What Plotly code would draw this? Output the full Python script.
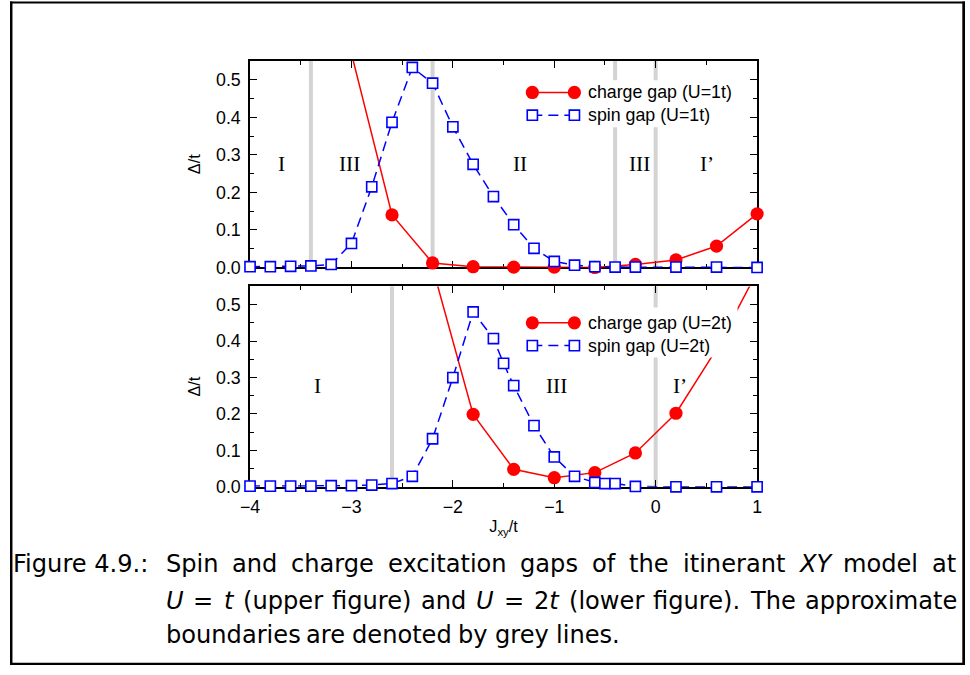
import glob
import os
import struct

import plotly.graph_objects as go

# ---------------- data ----------------
# upper panel, U = t
jxy_spin_u1 = [-4.0, -3.8, -3.6, -3.4, -3.2, -3.0, -2.8, -2.6, -2.4, -2.2, -2.0, -1.8,
               -1.6, -1.4, -1.2, -1.0, -0.8, -0.6, -0.4, -0.2, 0.2, 0.6, 1.0]
spin_u1 = [0.002, 0.002, 0.003, 0.004, 0.008, 0.064, 0.215, 0.387, 0.533, 0.491, 0.375, 0.275,
           0.189, 0.114, 0.051, 0.016, 0.006, 0.002, 0.001, 0.001, 0.001, 0.001, 0.0]
jxy_charge_u1 = [-3.0, -2.6, -2.2, -1.8, -1.4, -1.0, -0.6, -0.2, 0.2, 0.6, 1.0]
charge_u1 = [0.57, 0.140, 0.012, 0.002, 0.001, 0.001, 0.0, 0.008, 0.020, 0.057, 0.143]
bounds_u1 = [-3.4, -2.2, -0.4, 0.0]
labels_u1 = ["I", "III", "II", "III", "I\u2019"]
label_x_u1 = [-3.687, -3.02, -1.34, -0.163, 0.51]

# lower panel, U = 2t
jxy_spin_u2 = [-4.0, -3.8, -3.6, -3.4, -3.2, -3.0, -2.8, -2.6, -2.4, -2.2, -2.0, -1.8,
               -1.6, -1.5, -1.4, -1.2, -1.0, -0.8, -0.6, -0.5, -0.4, -0.2, 0.2, 0.6, 1.0]
spin_u2 = [0.002, 0.002, 0.002, 0.002, 0.003, 0.003, 0.005, 0.009, 0.029, 0.132, 0.300, 0.480,
           0.407, 0.339, 0.278, 0.168, 0.082, 0.029, 0.012, 0.009, 0.009, 0.001, 0.0, 0.0, 0.0]
jxy_charge_u2 = [-2.2, -1.8, -1.4, -1.0, -0.6, -0.2, 0.2, 0.6, 1.0]
charge_u2 = [0.602, 0.199, 0.048, 0.025, 0.039, 0.093, 0.202, 0.378, 0.59]
bounds_u2 = [-2.6, 0.0]
labels_u2 = ["I", "III", "I\u2019"]
label_x_u2 = [-3.335, -0.98, 0.239]

label_y = 0.276
x_range = [-4, 1]
y_range = [0, 0.55]
legend_u1 = ["charge gap (U=1t)", "spin gap (U=1t)"]
legend_u2 = ["charge gap (U=2t)", "spin gap (U=2t)"]
y_title = "\u0394/t"
x_title = "J<sub>xy</sub>/t"

caption_label = "Figure 4.9.:"
caption_lines = [
    ["Spin", "and", "charge", "excitation", "gaps", "of", "the", "itinerant", "<i>XY</i>",
     "model", "at"],
    ["<i>U</i>", "=", "<i>t</i>", "(upper", "figure)", "and", "<i>U</i>", "=", "2<i>t</i>",
     "(lower", "figure).", "The", "approximate"],
    ["boundaries", "are", "denoted", "by", "grey", "lines."],
]
caption_justified = [True, True, False]

# ---------------- styling / geometry ----------------
W, H = 970, 675
# the photographed page shows the figure slightly scaled and shifted;
# all positions below are given in picture pixels and mapped back onto the paper
S, OX, OY = 0.9835, 11.2, 1.0
K = 1 / S
RED = "#ff0000"
BLUE = "#0000ff"
GREY = "#d3d3d3"
SANS = "Liberation Sans, Arial, sans-serif"
SERIF = "Liberation Serif, Times New Roman, serif"
CAPFONT = "DejaVu Sans, sans-serif"
CAP_LEFT, CAP_INDENT, CAP_RIGHT = 13.3, 165.7, 955.0
CAP_BASELINES = [571.7, 609.0, 643.3]
CAP_LINE3_WIDTH = 452.6


def px(X):
    return min(1.0, max(0.0, (X - OX) / S / W))


def py(Y):
    return min(1.0, max(0.0, 1 - (Y - OY) / S / H))


# ---- text metrics from the installed caption font (for justified caption) ----
def load_widths(name):
    paths = []
    for root in ("/usr/share/fonts", "/usr/local/share/fonts", os.path.expanduser("~/.fonts")):
        paths += glob.glob(os.path.join(root, "**", name), recursive=True)
    if not paths:
        return None
    try:
        data = open(paths[0], "rb").read()
        ntab = struct.unpack(">H", data[4:6])[0]
        tabs = {}
        for i in range(ntab):
            tag, _, off, ln = struct.unpack(">4sIII", data[12 + 16 * i:28 + 16 * i])
            tabs[tag.decode("latin1")] = off
        upem = struct.unpack(">H", data[tabs["head"] + 18:tabs["head"] + 20])[0]
        nh = struct.unpack(">H", data[tabs["hhea"] + 34:tabs["hhea"] + 36])[0]
        hm = tabs["hmtx"]
        adv = [struct.unpack(">H", data[hm + 4 * i:hm + 4 * i + 2])[0] for i in range(nh)]
        cm = tabs["cmap"]
        nsub = struct.unpack(">H", data[cm + 2:cm + 4])[0]
        sub = None
        for i in range(nsub):
            pid, eid, off = struct.unpack(">HHI", data[cm + 4 + 8 * i:cm + 12 + 8 * i])
            if struct.unpack(">H", data[cm + off:cm + off + 2])[0] == 4:
                sub = cm + off
                break
        if sub is None:
            return None
        s2 = struct.unpack(">H", data[sub + 6:sub + 8])[0]
        n = s2 // 2
        ends = struct.unpack(">%dH" % n, data[sub + 14:sub + 14 + s2])
        starts = struct.unpack(">%dH" % n, data[sub + 16 + s2:sub + 16 + 2 * s2])
        deltas = struct.unpack(">%dh" % n, data[sub + 16 + 2 * s2:sub + 16 + 3 * s2])
        ro = sub + 16 + 3 * s2
        roffs = struct.unpack(">%dH" % n, data[ro:ro + s2])

        def width(ch):
            c = ord(ch)
            g = 0
            for i in range(n):
                if c <= ends[i]:
                    if c >= starts[i]:
                        if roffs[i] == 0:
                            g = (c + deltas[i]) & 0xFFFF
                        else:
                            a = ro + 2 * i + roffs[i] + 2 * (c - starts[i])
                            g = struct.unpack(">H", data[a:a + 2])[0]
                            if g:
                                g = (g + deltas[i]) & 0xFFFF
                    break
            return adv[min(g, nh - 1)] / upem
        return width
    except Exception:
        return None


_w = load_widths("DejaVuSans.ttf") or (lambda ch: 0.318 if ch == " " else 0.58)


def text_em(s):
    s = s.replace("<i>", "").replace("</i>", "")
    return sum(_w(ch) for ch in s)


cap_size = CAP_LINE3_WIDTH / text_em(" ".join(caption_lines[2]))
cap_size = max(21.0, min(24.0, cap_size))      # size in picture pixels
space = _w(" ") * cap_size

fig = go.Figure()


def add_panel(xa, ya, jc, c, js, s):
    cm = [v if v <= y_range[1] else None for v in c]
    sm = [v if v <= y_range[1] else None for v in s]
    fig.add_trace(go.Scatter(x=jc, y=c, mode="lines", xaxis=xa, yaxis=ya,
                             line=dict(color=RED, width=1.5), showlegend=False, hoverinfo="skip"))
    fig.add_trace(go.Scatter(x=jc, y=cm, mode="markers", xaxis=xa, yaxis=ya, cliponaxis=False,
                             marker=dict(symbol="circle", size=13 * K, color=RED,
                                         line=dict(width=0)),
                             showlegend=False))
    fig.add_trace(go.Scatter(x=js, y=s, mode="lines", xaxis=xa, yaxis=ya,
                             line=dict(color=BLUE, width=1.5, dash="10px,6px"),
                             showlegend=False, hoverinfo="skip"))
    fig.add_trace(go.Scatter(x=js, y=sm, mode="markers", xaxis=xa, yaxis=ya, cliponaxis=False,
                             marker=dict(symbol="square", size=10 * K, color="white",
                                         line=dict(color=BLUE, width=1.6)),
                             showlegend=False))


add_panel("x2", "y2", jxy_charge_u1, charge_u1, jxy_spin_u1, spin_u1)
add_panel("x", "y", jxy_charge_u2, charge_u2, jxy_spin_u2, spin_u2)

tickfont = dict(family=SANS, size=17.5 * K, color="black")
titlefont = dict(family=SANS, size=16 * K, color="black")
xdom = [px(251), px(757.5)]
common_x = dict(range=x_range, dtick=1, tick0=-4, ticks="inside", ticklen=7, tickwidth=1.3,
                tickcolor="black", minor=dict(dtick=0.5, ticks="inside", ticklen=4, tickwidth=1.3,
                                              tickcolor="black"),
                showline=True, linewidth=1.5, linecolor="black", mirror="allticks",
                showgrid=False, zeroline=False, layer="below traces",
                tickfont=tickfont, domain=xdom)
common_y = dict(range=y_range, dtick=0.1, tick0=0, tickformat=".1f", ticks="inside", ticklen=7,
                tickwidth=1.3, tickcolor="black",
                minor=dict(dtick=0.05, ticks="inside", ticklen=4, tickwidth=1.3, tickcolor="black"),
                showline=True, linewidth=1.5, linecolor="black", mirror="allticks",
                showgrid=False, zeroline=False, layer="below traces",
                tickfont=tickfont, ticklabelstandoff=4,
                title=dict(text=y_title, font=titlefont, standoff=11))

fig.update_layout(
    width=W, height=H, margin=dict(l=0, r=0, t=0, b=0, pad=0), autosize=False,
    paper_bgcolor="white", plot_bgcolor="rgba(0,0,0,0)", showlegend=False,
    xaxis=dict(common_x, anchor="y", showticklabels=True, ticklabelstandoff=3,
               title=dict(text=x_title, font=titlefont, standoff=5)),
    yaxis=dict(common_y, anchor="x", domain=[py(487), py(287)]),
    xaxis2=dict(common_x, anchor="y2", showticklabels=False),
    yaxis2=dict(common_y, anchor="x2", domain=[py(268), py(62)]),
)

shapes = []
annotations = []

# grey phase boundaries
for b in bounds_u1:
    shapes.append(dict(type="line", xref="x2", yref="y2 domain", x0=b, x1=b, y0=0, y1=1,
                       line=dict(color=GREY, width=4), layer="below"))
for b in bounds_u2:
    shapes.append(dict(type="line", xref="x", yref="y domain", x0=b, x1=b, y0=0, y1=1,
                       line=dict(color=GREY, width=4), layer="below"))

# region labels
for t, xv in zip(labels_u1, label_x_u1):
    annotations.append(dict(text=t, x=xv, y=label_y, xref="x2", yref="y2", showarrow=False,
                            font=dict(family=SERIF, size=21 * K, color="black")))
for t, xv in zip(labels_u2, label_x_u2):
    annotations.append(dict(text=t, x=xv, y=label_y, xref="x", yref="y", showarrow=False,
                            font=dict(family=SERIF, size=21 * K, color="black")))


# custom legends (key with a marker at both ends, like gnuplot)
def add_legend(box, rows, texts):
    x0, y0, x1, y1 = box
    shapes.append(dict(type="rect", xref="paper", yref="paper", x0=px(x0), x1=px(x1),
                       y0=py(y1), y1=py(y0), fillcolor="white", line=dict(width=0), layer="above"))
    ka, kb = 533, 575
    r = rows[0]
    shapes.append(dict(type="line", xref="paper", yref="paper", x0=px(ka), x1=px(kb),
                       y0=py(r), y1=py(r), line=dict(color=RED, width=1.5), layer="above"))
    for k in (ka, kb):
        shapes.append(dict(type="circle", xref="paper", yref="paper", xsizemode="pixel",
                           ysizemode="pixel", xanchor=px(k), yanchor=py(r), x0=-6.6, x1=6.6,
                           y0=-6.6, y1=6.6, fillcolor=RED, line=dict(width=0), layer="above"))
    r = rows[1]
    shapes.append(dict(type="line", xref="paper", yref="paper", x0=px(ka), x1=px(kb),
                       y0=py(r), y1=py(r), line=dict(color=BLUE, width=1.5, dash="10px,6px"),
                       layer="above"))
    for k in (ka, kb):
        shapes.append(dict(type="rect", xref="paper", yref="paper", xsizemode="pixel",
                           ysizemode="pixel", xanchor=px(k), yanchor=py(r), x0=-5.1, x1=5.1,
                           y0=-5.1, y1=5.1, fillcolor="white", line=dict(color=BLUE, width=1.6),
                           layer="above"))
    for t, r in zip(texts, rows):
        annotations.append(dict(text=t, x=px(587), y=py(r), xref="paper", yref="paper",
                                xanchor="left", yanchor="middle", showarrow=False,
                                font=dict(family=SANS, size=17.5 * K, color="black")))


add_legend((524, 81, 738, 128), (93.3, 116.0), legend_u1)
add_legend((524, 308, 738, 358), (323.3, 346.0), legend_u2)


# caption (justified like the LaTeX original)
def cap_word(text, x, base):
    annotations.append(dict(text=text, x=px(x), y=py(base - 8), xref="paper", yref="paper",
                            xanchor="left", yanchor="middle", showarrow=False, borderpad=0,
                            font=dict(family=CAPFONT, size=cap_size * K, color="black")))


cap_word(caption_label, CAP_LEFT, CAP_BASELINES[0])
for words, base, just in zip(caption_lines, CAP_BASELINES, caption_justified):
    widths = [text_em(w) * cap_size for w in words]
    if just and len(words) > 1:
        gap = (CAP_RIGHT - CAP_INDENT - sum(widths)) / (len(words) - 1)
    else:
        gap = space
    xcur = CAP_INDENT
    for w, wd in zip(words, widths):
        cap_word(w, xcur, base)
        xcur += wd + gap

# page frame (parts beyond the paper are drawn at its edge)
frame = [
    (3, 2.5, 970, 4.5),      # top
    (3, 2.5, 5.5, 665),      # left
    (3, 662.5, 970, 665),    # bottom
    (962.5, 2.5, 970, 665),  # right
]
for x0, y0, x1, y1 in frame:
    a0, a1 = px(x0), px(x1)
    b0, b1 = py(y1), py(y0)
    if a1 - a0 < 2.4 / W:
        a0 = max(0.0, a1 - 2.5 / W) if a1 >= 1.0 else a0
        a1 = a0 + 2.5 / W
    if b1 - b0 < 2.0 / H:
        b0 = max(0.0, b1 - 2.0 / H)
        b1 = b0 + 2.0 / H
    shapes.append(dict(type="rect", xref="paper", yref="paper", x0=a0, x1=a1, y0=b0, y1=b1,
                       fillcolor="black", line=dict(width=0), layer="above"))

fig.update_layout(shapes=shapes, annotations=annotations)
fig.write_html("out.html")
